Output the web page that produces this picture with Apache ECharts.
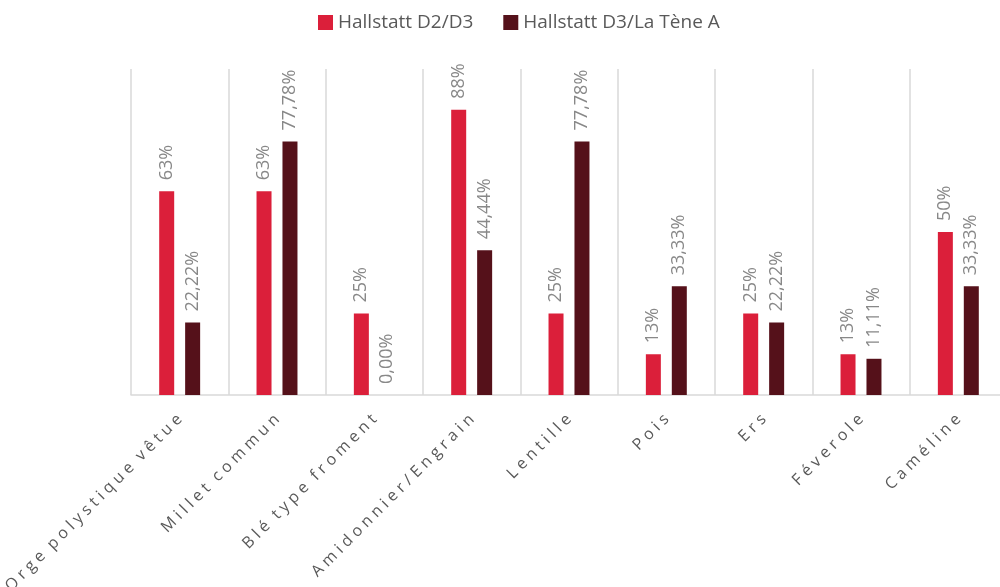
<!DOCTYPE html>
<html>
<head>
<meta charset="utf-8">
<script src="https://cdn.jsdelivr.net/npm/echarts@6/dist/echarts.min.js"></script>
<style>
  html, body { margin: 0; padding: 0; background: #fff; }
  #chart { width: 1000px; height: 587px; }
</style>
</head>
<body>
<div id="chart"></div>
<script>
var categories = ['Orge polystique vêtue', 'Millet commun', 'Blé type froment', 'Amidonnier/Engrain',
    'Lentille', 'Pois', 'Ers', 'Féverole', 'Caméline'];
var seriesNames = ['Hallstatt D2/D3', 'Hallstatt D3/La Tène A'];
var periodA = [62.5, 62.5, 25, 87.5, 25, 12.5, 25, 12.5, 50];
var periodB = [22.22, 77.78, 0, 44.44, 77.78, 33.33, 22.22, 11.11, 33.33];

var chart = echarts.init(document.getElementById('chart'));

// spaced out letters like the original axis labels
function spaced(s) {
    return s.split(' ').map(function (w) {
        return w.split('').join('\u2009\u200A');
    }).join('\u2009\u2009\u2009\u200A');
}

var labelBase = {
    show: true,
    position: 'top',
    rotate: 90,
    align: 'left',
    verticalAlign: 'middle',
    distance: 11,
    color: '#888888',
    fontSize: 18,
    fontFamily: 'Open Sans'
};

var option = {
    animation: false,
    legend: {
        top: 8,
        left: 313,
        itemWidth: 15,
        itemHeight: 15,
        itemGap: 30,
        icon: 'rect',
        textStyle: { color: '#595959', fontSize: 19, fontFamily: 'Open Sans' },
        data: seriesNames
    },
    grid: { left: 131, width: 876, top: 69, bottom: 192, outerBoundsMode: 'none' },
    xAxis: {
        type: 'category',
        data: categories,
        axisLine: { lineStyle: { color: '#d9d9d9', width: 1.5 } },
        axisTick: { show: false },
        splitLine: { show: true, interval: 0, lineStyle: { color: '#d9d9d9', width: 1.5 } },
        axisLabel: {
            interval: 0,
            rotate: 45,
            margin: 22,
            color: '#595959',
            fontSize: 16,
            fontFamily: 'Open Sans',
            formatter: spaced
        }
    },
    yAxis: {
        type: 'value',
        min: 0,
        max: 100,
        show: false,
        splitLine: { show: false }
    },
    series: [
        {
            name: seriesNames[0],
            type: 'bar',
            data: periodA,
            barWidth: 15,
            barGap: '73%',
            itemStyle: { color: '#db1f3a' },
            label: Object.assign({}, labelBase, {
                formatter: function (p) { return Math.round(p.value) + '%'; }
            })
        },
        {
            name: seriesNames[1],
            type: 'bar',
            data: periodB,
            barWidth: 15,
            itemStyle: { color: '#55111a' },
            label: Object.assign({}, labelBase, {
                formatter: function (p) { return p.value.toFixed(2).replace('.', ',') + '%'; }
            })
        }
    ]
};

chart.setOption(option);
</script>
</body>
</html>
